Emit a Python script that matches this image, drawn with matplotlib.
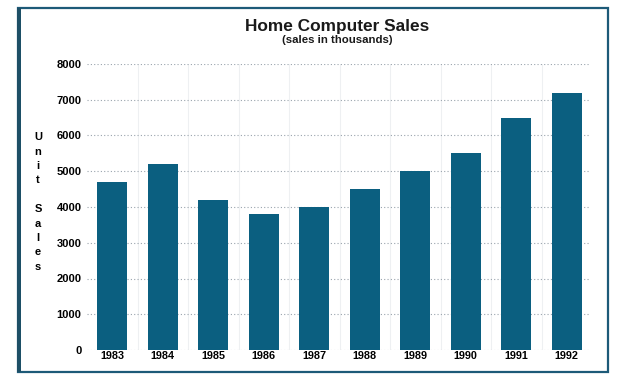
import matplotlib
matplotlib.use("Agg")
import matplotlib.pyplot as plt
import numpy as np
from matplotlib.patches import Rectangle

years = ['1983', '1984', '1985', '1986', '1987', '1988', '1989', '1990', '1991', '1992']
sales = [4700, 5200, 4200, 3800, 4000, 4500, 5000, 5500, 6500, 7200]
yticks = [0, 1000, 2000, 3000, 4000, 5000, 6000, 7000, 8000]

plt.rcParams['font.family'] = ['Liberation Sans', 'DejaVu Sans']

fig = plt.figure(figsize=(6.18, 3.75), dpi=100)
fig.patch.set_facecolor('white')

# outer frame
fig.patches.append(Rectangle((18/618, 3/375), 590/618, 364/375, transform=fig.transFigure,
                             fill=False, edgecolor='#1d5a78', linewidth=1.6))
fig.patches.append(Rectangle((17/618, 3/375), 4/618, 364/375, transform=fig.transFigure,
                             facecolor='#1d4f66', edgecolor='none'))

ax = fig.add_axes([87/618, 25/375, 503/618, 286/375])
x = np.arange(len(years))
ax.bar(x, sales, width=0.59, color='#0b5f80', zorder=3)

ax.set_xlim(-0.5, 9.46)
ax.set_ylim(0, 8000)
ax.set_yticks(yticks)
ax.set_yticklabels([str(v) for v in yticks], fontsize=8, fontweight='bold')
ax.set_xticks(x)
ax.set_xticklabels(years, fontsize=7.8, fontweight='bold')
ax.tick_params(length=0)
ax.tick_params(axis='x', pad=1)
ax.tick_params(axis='y', pad=4)

ax.grid(axis='y', linestyle=(0, (1, 2)), color='#9aa4ad', linewidth=0.8, zorder=0)
for xv in np.arange(0.5, 9.6, 1):
    ax.axvline(xv, color='#eef0f2', linewidth=0.8, zorder=0)
for s in ax.spines.values():
    s.set_visible(False)

fig.text(337/618, 1 - 27/375, 'Home Computer Sales', ha='center', va='center',
         fontsize=12.4, fontweight='bold', color='#1a1a1a')
fig.text(337/618, 1 - 40/375, '(sales in thousands)', ha='center', va='center',
         fontsize=8.2, fontweight='bold', color='#1a1a1a')
fig.text(38/618, 1 - 202/375, 'U\nn\ni\nt\n\nS\na\nl\ne\ns', ha='center', va='center',
         fontsize=8, fontweight='bold', linespacing=1.55)

fig.savefig('out.png', dpi=100)
